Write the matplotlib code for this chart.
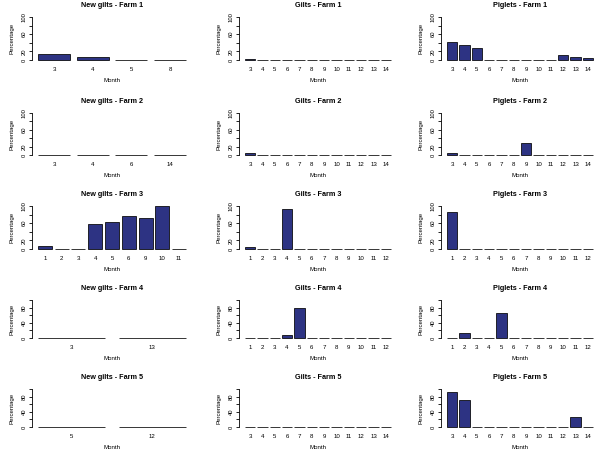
import numpy as np
import matplotlib
matplotlib.use('Agg')
import matplotlib.pyplot as plt

plt.rcParams['font.family'] = ['Liberation Sans', 'DejaVu Sans']

bar_color = '#2D3383'

# panel titles, months and percentages (row = farm, col = group)
titles = [['New gilts - Farm 1', 'Gilts - Farm 1', 'Piglets - Farm 1'],
          ['New gilts - Farm 2', 'Gilts - Farm 2', 'Piglets - Farm 2'],
          ['New gilts - Farm 3', 'Gilts - Farm 3', 'Piglets - Farm 3'],
          ['New gilts - Farm 4', 'Gilts - Farm 4', 'Piglets - Farm 4'],
          ['New gilts - Farm 5', 'Gilts - Farm 5', 'Piglets - Farm 5']]

months_3_14 = [3, 4, 5, 6, 7, 8, 9, 10, 11, 12, 13, 14]
months_1_12 = [1, 2, 3, 4, 5, 6, 7, 8, 9, 10, 11, 12]

newgilts_f1_months = [3, 4, 5, 8]
newgilts_f1 = [13, 8, 0, 0]
gilts_f1 = [3, 0, 0, 0, 0, 0, 0, 0, 0, 0, 0, 0]
piglets_f1 = [42, 34, 28, 0, 0, 0, 0, 0, 0, 12, 8, 5]

newgilts_f2_months = [3, 4, 6, 14]
newgilts_f2 = [0, 0, 0, 0]
gilts_f2 = [5, 0, 0, 0, 0, 0, 0, 0, 0, 0, 0, 0]
piglets_f2 = [5, 0, 0, 0, 0, 0, 28, 0, 0, 0, 0, 0]

newgilts_f3_months = [1, 2, 3, 4, 5, 6, 9, 10, 11]
newgilts_f3 = [8, 0, 0, 57, 62, 77, 73, 99, 0]
gilts_f3 = [4, 0, 0, 92, 0, 0, 0, 0, 0, 0, 0, 0]
piglets_f3 = [85, 0, 0, 0, 0, 0, 0, 0, 0, 0, 0, 0]

newgilts_f4_months = [3, 13]
newgilts_f4 = [0, 0]
gilts_f4 = [0, 0, 0, 7, 80, 0, 0, 0, 0, 0, 0, 0]
piglets_f4 = [0, 13, 0, 0, 66, 0, 0, 0, 0, 0, 0, 0]

newgilts_f5_months = [5, 12]
newgilts_f5 = [0, 0]
gilts_f5 = [0, 0, 0, 0, 0, 0, 0, 0, 0, 0, 0, 0]
piglets_f5 = [92, 71, 0, 0, 0, 0, 0, 0, 0, 0, 25, 0]

panels = [[(newgilts_f1_months, newgilts_f1), (months_3_14, gilts_f1), (months_3_14, piglets_f1)],
          [(newgilts_f2_months, newgilts_f2), (months_3_14, gilts_f2), (months_3_14, piglets_f2)],
          [(newgilts_f3_months, newgilts_f3), (months_1_12, gilts_f3), (months_1_12, piglets_f3)],
          [(newgilts_f4_months, newgilts_f4), (months_1_12, gilts_f4), (months_1_12, piglets_f4)],
          [(newgilts_f5_months, newgilts_f5), (months_3_14, gilts_f5), (months_3_14, piglets_f5)]]

W, H = 600, 450
fig = plt.figure(figsize=(6, 4.5), dpi=100)

# pixel layout: (y of 0, y of 100) per row, (left, right) per column
row_y = [(60, 17), (155, 113), (249, 206), (338, 300), (427, 389)]
col_x = [(32, 192), (239, 397), (441, 599)]

for r in range(5):
    for c in range(3):
        months, vals = panels[r][c]
        n = len(months)
        y0, y100 = row_y[r]
        ppu = (y0 - y100) / 100.0
        bottom = y0 + 4 * ppu
        top = y100 - 4 * ppu
        x_l, x_r = col_x[c]
        ax = fig.add_axes([x_l / W, 1 - bottom / H, (x_r - x_l) / W, (bottom - top) / H])

        centers = 0.7 + 1.2 * np.arange(n)
        ax.bar(centers, vals, width=1.0, color=bar_color, edgecolor='black', linewidth=0.55)
        rng = 1.2 * n - 0.2
        ax.set_xlim(0.2 - 0.04 * rng, 1.2 * n + 0.04 * rng)
        ax.set_ylim(-4, 104)

        for s in ['top', 'right', 'bottom']:
            ax.spines[s].set_visible(False)
        ax.spines['left'].set_bounds(0, 100)
        ax.spines['left'].set_linewidth(0.6)

        ax.set_yticks([0, 20, 40, 60, 80, 100])
        if r < 3:
            ylabels = ['0', '20', '', '60', '', '100']
        else:
            ylabels = ['0', '', '40', '', '80', '']
        ax.set_yticklabels(ylabels, rotation=90, va='center', fontsize=4.2)
        ax.tick_params(axis='y', length=2.5, width=0.6, pad=1.5)

        ax.set_xticks(centers)
        ax.set_xticklabels([str(m) for m in months], fontsize=4.4)
        ax.tick_params(axis='x', length=0, pad=4)

        ax.set_title(titles[r][c], fontsize=5.2, fontweight='bold', pad=6)
        ax.set_xlabel('Month', fontsize=4.4, labelpad=4)
        ax.set_ylabel('Percentage', fontsize=4.4, labelpad=5)
        ax.patch.set_alpha(0)

fig.savefig('out.png', dpi=100, facecolor='white')
